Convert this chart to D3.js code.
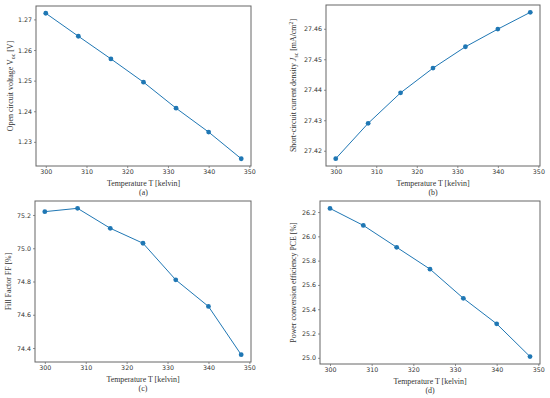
<!DOCTYPE html>
<html>
<head>
<meta charset="utf-8">
<script src="https://cdn.jsdelivr.net/npm/d3@7"></script>
<style>
  body { margin: 0; background: #fff; }
  .tick text { font-family: "DejaVu Sans", sans-serif; font-size: 6.3px; fill: #333; }
  .lbl { font-family: "Liberation Serif", "Times New Roman", serif; font-size: 7.9px; fill: #333; }
</style>
</head>
<body>
<div id="chart"></div>
<script>
// temperature values shared by all four panels
var temps = [300, 308, 316, 324, 332, 340, 348];
var xTicks = [300, 310, 320, 330, 340, 350];

// panel series
var vocValues = [1.2720, 1.2645, 1.2571, 1.2495, 1.2410, 1.2332, 1.2245];
var jscValues = [27.4174, 27.4290, 27.4390, 27.4471, 27.4541, 27.4599, 27.4654];
var ffValues = [75.22, 75.24, 75.12, 75.03, 74.81, 74.65, 74.36];
var pceValues = [26.23, 26.09, 25.91, 25.73, 25.49, 25.28, 25.01];

// tick labels
var vocTicks = [1.23, 1.24, 1.25, 1.26, 1.27];
var jscTicks = [27.42, 27.43, 27.44, 27.45, 27.46];
var ffTicks = [74.4, 74.6, 74.8, 75.0, 75.2];
var pceTicks = [25.0, 25.2, 25.4, 25.6, 25.8, 26.0, 26.2];

var svg = d3.select("#chart").append("svg")
  .attr("width", 550)
  .attr("height", 398);

function padDomain(vals) {
  var lo = d3.min(vals), hi = d3.max(vals), p = (hi - lo) * 0.05;
  return [lo - p, hi + p];
}

function drawPanel(opt) {
  var x = d3.scaleLinear().domain(padDomain(temps)).range([opt.left, opt.right]);
  var y = d3.scaleLinear().domain(padDomain(opt.values)).range([opt.bottom, opt.top]);

  var g = svg.append("g");

  g.append("g")
    .attr("transform", `translate(0, ${opt.bottom})`)
    .call(d3.axisBottom(x).tickValues(xTicks).tickFormat(d3.format("d")).tickSize(2).tickPadding(2))
    .call(a => a.select(".domain").remove())
    .call(a => a.selectAll("line").attr("stroke", "#444").attr("stroke-width", 0.6));

  g.append("g")
    .attr("transform", `translate(${opt.left}, 0)`)
    .call(d3.axisLeft(y).tickValues(opt.ticks).tickFormat(d3.format(opt.fmt)).tickSize(2).tickPadding(2))
    .call(a => a.select(".domain").remove())
    .call(a => a.selectAll("line").attr("stroke", "#444").attr("stroke-width", 0.6));

  // frame
  g.append("rect")
    .attr("x", opt.left)
    .attr("y", opt.top)
    .attr("width", opt.right - opt.left)
    .attr("height", opt.bottom - opt.top)
    .attr("fill", "none")
    .attr("stroke", "#666")
    .attr("stroke-width", 1);

  var pts = temps.map((t, i) => [t, opt.values[i]]);
  g.append("path")
    .datum(pts)
    .attr("fill", "none")
    .attr("stroke", "#1f77b4")
    .attr("stroke-width", 1)
    .attr("d", d3.line().x(d => x(d[0])).y(d => y(d[1])));

  g.selectAll(".dot")
    .data(pts)
    .enter()
    .append("circle")
    .attr("cx", d => x(d[0]))
    .attr("cy", d => y(d[1]))
    .attr("r", 2.4)
    .attr("fill", "#1f77b4");

  var cx = (opt.left + opt.right) / 2;
  g.append("text")
    .attr("class", "lbl")
    .attr("x", cx)
    .attr("y", opt.bottom + 19.5)
    .attr("text-anchor", "middle")
    .text("Temperature T [kelvin]");

  g.append("text")
    .attr("class", "lbl")
    .attr("x", cx)
    .attr("y", opt.bottom + 28.5)
    .attr("text-anchor", "middle")
    .text(opt.tag);

  var yl = g.append("text")
    .attr("class", "lbl")
    .attr("transform", `translate(${opt.ylx}, ${(opt.top + opt.bottom) / 2}) rotate(-90)`)
    .attr("text-anchor", "middle");
  opt.ylabel(yl);
}

drawPanel({
  left: 36, right: 251, top: 6, bottom: 166,
  values: vocValues, ticks: vocTicks, fmt: ".2f", tag: "(a)", ylx: 13,
  ylabel: t => {
    t.append("tspan").text("Open circuit voltage V");
    t.append("tspan").attr("font-size", "5.8px").attr("dy", 1.5).text("oc");
    t.append("tspan").attr("dy", -1.5).text(" [V]");
  }
});

drawPanel({
  left: 326, right: 540, top: 5, bottom: 166,
  values: jscValues, ticks: jscTicks, fmt: ".2f", tag: "(b)", ylx: 296,
  ylabel: t => {
    t.append("tspan").text("Short-circuit current density ");
    t.append("tspan").attr("font-style", "italic").text("J");
    t.append("tspan").attr("font-size", "5.8px").attr("dy", 1.5).text("sc");
    t.append("tspan").attr("dy", -1.5).text(" [mA/cm");
    t.append("tspan").attr("font-size", "5.8px").attr("dy", -3).text("2");
    t.append("tspan").attr("dy", 3).text("]");
  }
});

drawPanel({
  left: 35, right: 251, top: 201, bottom: 362,
  values: ffValues, ticks: ffTicks, fmt: ".1f", tag: "(c)", ylx: 11,
  ylabel: t => t.text("Fill Factor FF [%]")
});

drawPanel({
  left: 320, right: 540, top: 201, bottom: 364,
  values: pceValues, ticks: pceTicks, fmt: ".1f", tag: "(d)", ylx: 296,
  ylabel: t => t.text("Power conversion efficiency PCE [%]")
});
</script>
</body>
</html>
